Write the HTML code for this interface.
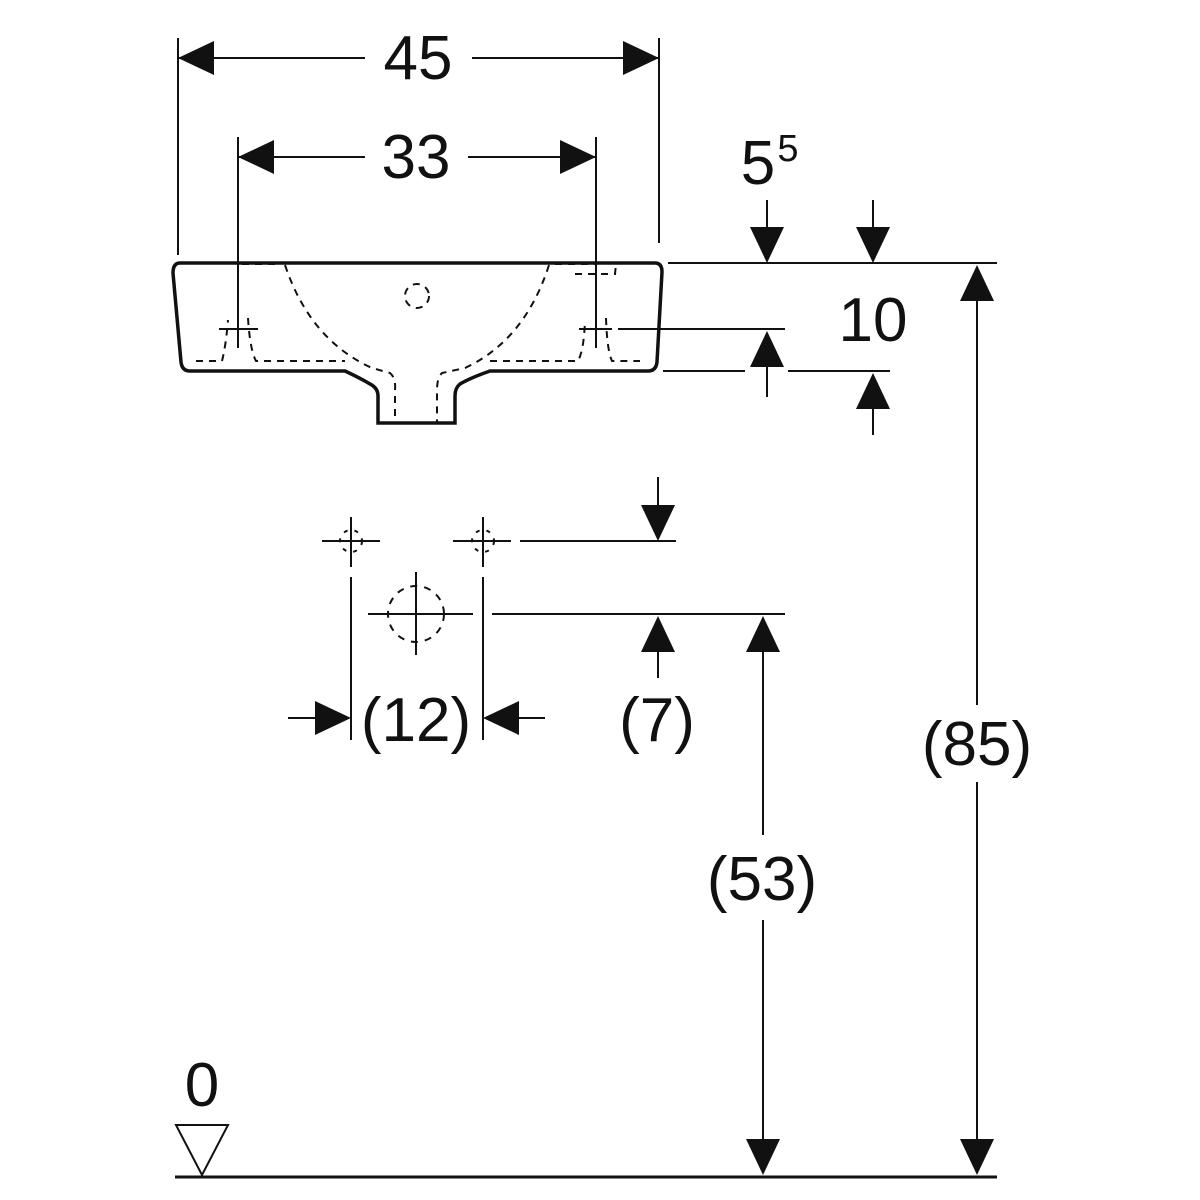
<!DOCTYPE html>
<html><head><meta charset="utf-8"><style>html,body{margin:0;padding:0;background:#fff}svg{display:block}</style></head><body>
<svg width="1200" height="1200" viewBox="0 0 1200 1200" xmlns="http://www.w3.org/2000/svg" font-family="Liberation Sans, sans-serif" fill="none" stroke="#111">
<defs>
<path id="ar" d="M0 0 L-36 -17 L-36 17 Z" fill="#111" stroke="none"/>
</defs>
<g stroke-width="2">
<line x1="178" y1="38" x2="178" y2="255"/><line x1="659" y1="38" x2="659" y2="243"/>
<line x1="178" y1="58" x2="365" y2="58"/><line x1="472" y1="58" x2="659" y2="58"/>
<line x1="238" y1="137" x2="238" y2="320"/><line x1="596" y1="137" x2="596" y2="320"/>
<line x1="238" y1="157" x2="365" y2="157"/><line x1="468" y1="157" x2="596" y2="157"/>
<line x1="668" y1="263" x2="997" y2="263"/>
<line x1="618" y1="329" x2="785" y2="329"/>
<line x1="663" y1="371" x2="745" y2="371"/><line x1="788" y1="371" x2="890" y2="371"/>
<line x1="767" y1="200" x2="767" y2="230"/><line x1="873" y1="200" x2="873" y2="230"/>
<line x1="767" y1="360" x2="767" y2="397"/><line x1="873" y1="400" x2="873" y2="435"/>
<line x1="977" y1="290" x2="977" y2="705"/><line x1="977" y1="782" x2="977" y2="1150"/>
<line x1="763" y1="640" x2="763" y2="835"/><line x1="763" y1="920" x2="763" y2="1150"/>
<line x1="219" y1="329" x2="258" y2="329"/><line x1="238" y1="310" x2="238" y2="348"/>
<line x1="579" y1="329" x2="612" y2="329"/><line x1="596" y1="310" x2="596" y2="348"/>
<line x1="322" y1="541" x2="380" y2="541"/><line x1="351" y1="517" x2="351" y2="567"/>
<line x1="453" y1="541" x2="511" y2="541"/><line x1="483" y1="517" x2="483" y2="567"/>
<line x1="520" y1="541" x2="676" y2="541"/>
<line x1="658" y1="477" x2="658" y2="510"/>
<line x1="368" y1="614" x2="473" y2="614"/><line x1="416" y1="572" x2="416" y2="655"/>
<line x1="492" y1="614" x2="785" y2="614"/>
<line x1="658" y1="640" x2="658" y2="678"/>
<line x1="351" y1="577" x2="351" y2="740"/><line x1="483" y1="577" x2="483" y2="740"/>
<line x1="288" y1="718" x2="320" y2="718"/><line x1="515" y1="718" x2="545" y2="718"/>
</g>
<use href="#ar" transform="translate(178,58) rotate(180)"/>
<use href="#ar" transform="translate(659,58)"/>
<use href="#ar" transform="translate(238,157) rotate(180)"/>
<use href="#ar" transform="translate(596,157)"/>
<use href="#ar" transform="translate(767,263) rotate(90)"/>
<use href="#ar" transform="translate(873,263) rotate(90)"/>
<use href="#ar" transform="translate(767,331) rotate(-90)"/>
<use href="#ar" transform="translate(873,373) rotate(-90)"/>
<use href="#ar" transform="translate(977,265) rotate(-90)"/>
<use href="#ar" transform="translate(977,1175) rotate(90)"/>
<use href="#ar" transform="translate(763,616) rotate(-90)"/>
<use href="#ar" transform="translate(763,1175) rotate(90)"/>
<use href="#ar" transform="translate(658,541) rotate(90)"/>
<use href="#ar" transform="translate(658,616) rotate(-90)"/>
<use href="#ar" transform="translate(351,718)"/>
<use href="#ar" transform="translate(483,718) rotate(180)"/>
<path d="M180 263 L655 263 Q662 263 662 272 L657 362 Q656 371 648 371 L490 371 Q470 378 460 384 Q455 388 455 396 L455 423 L378 423 L378 396 Q378 388 370 384 Q360 378 345 371 L190 371 Q182 371 181 362 L173 273 Q173 263 180 263 Z" stroke-width="3.5"/>
<g stroke-width="2" stroke-dasharray="7,6">
<path d="M285 265 Q310 340 372 368 L390 373 Q396 378 395 390 L395 422"/>
<path d="M549 265 Q525 340 465 368 L442 373 Q437 378 437 390 L437 422"/>
<circle cx="417" cy="296" r="12"/>
<path d="M196 361 L222 361 Q226 345 228 320"/>
<path d="M248 318 Q250 350 256 361 L345 361"/>
<path d="M490 361 L578 361 Q584 350 585 320"/>
<path d="M606 318 Q607 350 612 361 L640 361"/>
<path d="M575 274 L615 274 L616 264"/>
<path d="M242 264 L280 264"/><path d="M555 264 L595 264"/>
</g>
<g stroke-width="2" stroke-dasharray="4,7">
<circle cx="351" cy="541" r="11"/><circle cx="483" cy="541" r="11"/>
<circle cx="416" cy="614" r="28" stroke-dasharray="7,7"/>
</g>
<line x1="175" y1="1177" x2="997" y2="1177" stroke-width="3"/>
<path d="M176 1125 L228 1125 L202 1175 Z" stroke-width="2"/>
<g fill="#111" stroke="none" font-size="62" text-anchor="middle">
<text x="418" y="79">45</text>
<text x="416" y="178">33</text>
<text x="758" y="184">5</text>
<text x="788" y="161" font-size="38">5</text>
<text x="873" y="341">10</text>
<text x="977" y="765">(85)</text>
<text x="762" y="900">(53)</text>
<text x="416" y="741">(12)</text>
<text x="657" y="741">(7)</text>
<text x="202" y="1106">0</text>
</g>
</svg>
</body></html>
